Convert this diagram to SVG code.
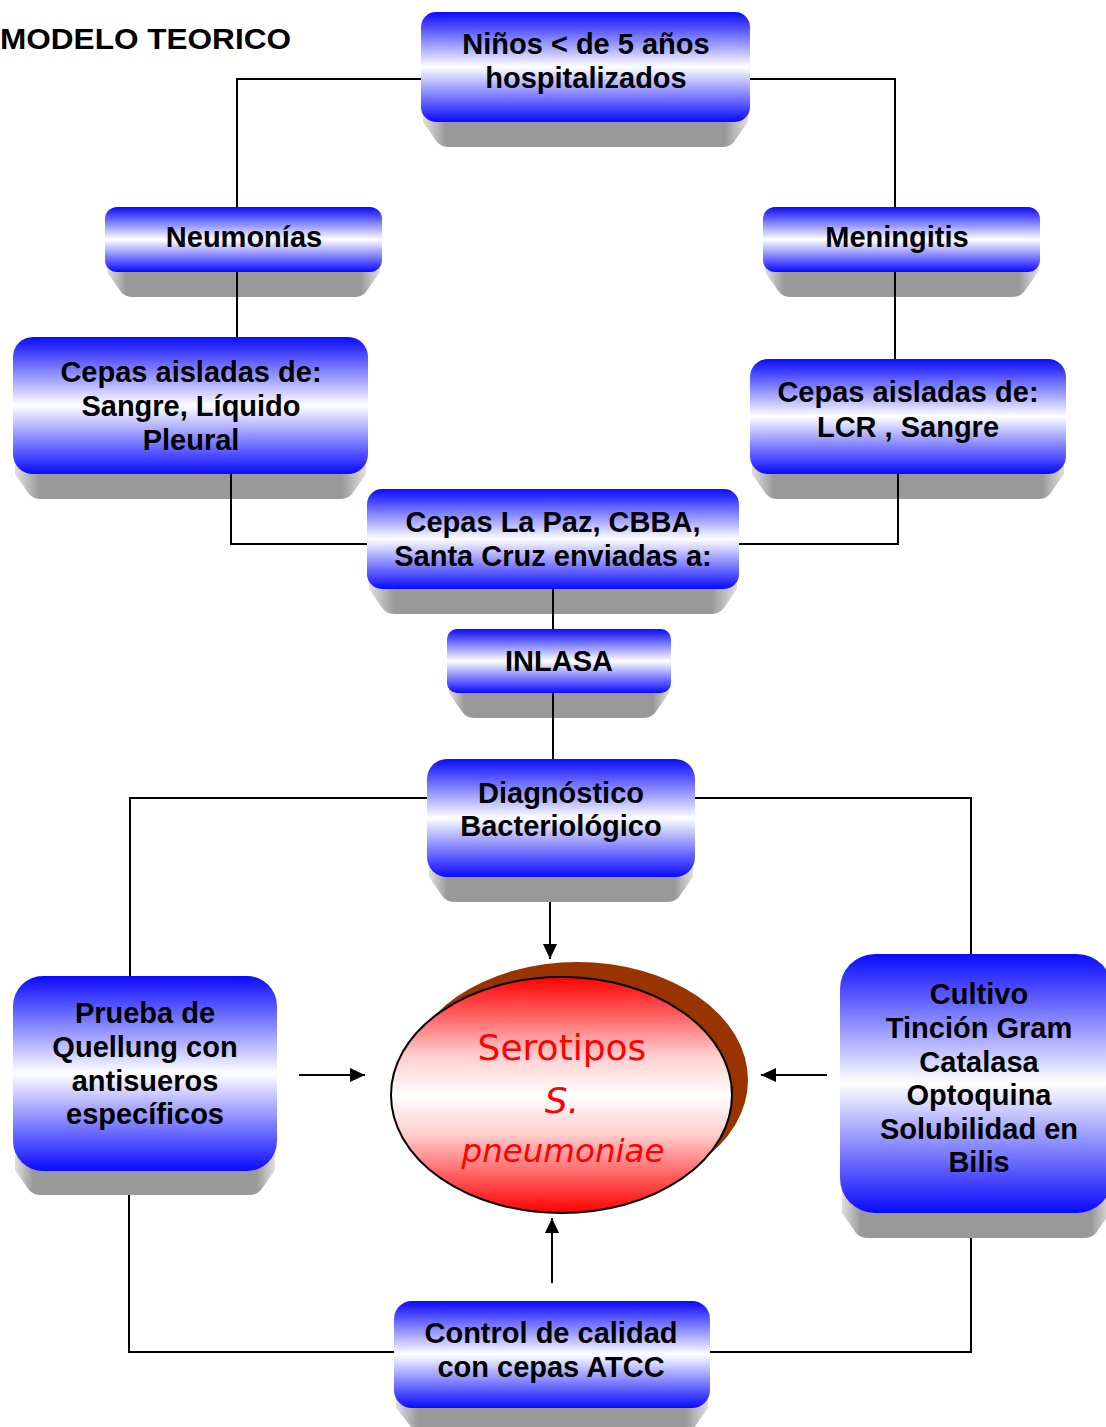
<svg xmlns="http://www.w3.org/2000/svg" width="1106" height="1427" viewBox="0 0 1106 1427">
<defs>
<linearGradient id="blueFace" x1="0" y1="0" x2="0" y2="1">
<stop offset="0" stop-color="#0a0aff"/>
<stop offset="0.5" stop-color="#ffffff"/>
<stop offset="1" stop-color="#0a0aff"/>
</linearGradient>
<linearGradient id="shadowGrad" x1="0" y1="0" x2="1" y2="0">
<stop offset="0" stop-color="#e0e0e0"/>
<stop offset="0.07" stop-color="#999999"/>
<stop offset="0.93" stop-color="#999999"/>
<stop offset="1" stop-color="#e0e0e0"/>
</linearGradient>
<linearGradient id="redFace" x1="0" y1="0" x2="0" y2="1">
<stop offset="0" stop-color="#ff0000"/>
<stop offset="0.15" stop-color="#ff5a5a"/>
<stop offset="0.33" stop-color="#ffcccc"/>
<stop offset="0.5" stop-color="#ffffff"/>
<stop offset="0.67" stop-color="#ffcccc"/>
<stop offset="0.85" stop-color="#ff5a5a"/>
<stop offset="1" stop-color="#ff0000"/>
</linearGradient>
<marker id="arrow" markerUnits="userSpaceOnUse" markerWidth="17" markerHeight="16" refX="16" refY="8" orient="auto">
<path d="M1,1 L16,8 L1,15 Z" fill="#000"/>
</marker>
</defs>
<style>
.face{fill:url(#blueFace);}
.shadow{fill:url(#shadowGrad);}
.lbl{font-family:"Liberation Sans",Arial,sans-serif;font-weight:bold;font-size:29px;fill:#000;text-anchor:middle;}
.title{font-family:"Liberation Sans",Arial,sans-serif;font-weight:bold;font-size:29px;fill:#000;}
.conn{fill:none;stroke:#000;stroke-width:2;}
.red{font-family:"DejaVu Sans",Verdana,sans-serif;fill:#ff0000;text-anchor:middle;}
</style>
<rect width="1106" height="1427" fill="#fff"/>
<text class="title" x="0" y="49" textLength="291" lengthAdjust="spacingAndGlyphs">MODELO TEORICO</text>

<g id="node-ninos">
<path class="shadow" d="M423,107 L748,107 L748,122 L734,142 Q730,147 722,147 L449,147 Q441,147 437,142 L423,122 Z"/>
<rect class="face" x="421" y="12" width="329" height="110" rx="15"/>
<text class="lbl" x="586" y="54">Niños &lt; de 5 años</text>
<text class="lbl" x="586" y="88">hospitalizados</text>
</g>

<g id="node-neumonias">
<path class="shadow" d="M107,260 L380,260 L380,272 L366,292 Q362,297 354,297 L133,297 Q125,297 121,292 L107,272 Z"/>
<rect class="face" x="105" y="207" width="277" height="65" rx="12"/>
<text class="lbl" x="244" y="247">Neumonías</text>
</g>

<g id="node-meningitis">
<path class="shadow" d="M765,260 L1038,260 L1038,272 L1024,292 Q1020,297 1012,297 L791,297 Q783,297 779,292 L765,272 Z"/>
<rect class="face" x="763" y="207" width="277" height="65" rx="12"/>
<text class="lbl" x="897" y="247">Meningitis</text>
</g>

<g id="node-cepas-izq">
<path class="shadow" d="M15,454 L366,454 L366,474 L352,494 Q348,499 340,499 L41,499 Q33,499 29,494 L15,474 Z"/>
<rect class="face" x="13" y="337" width="355" height="137" rx="20"/>
<text class="lbl" x="191" y="382">Cepas aisladas de:</text>
<text class="lbl" x="191" y="416">Sangre, Líquido</text>
<text class="lbl" x="191" y="450">Pleural</text>
</g>

<g id="node-cepas-der">
<path class="shadow" d="M752,456 L1064,456 L1064,474 L1050,494 Q1046,499 1038,499 L778,499 Q770,499 766,494 L752,474 Z"/>
<rect class="face" x="750" y="359" width="316" height="115" rx="18"/>
<text class="lbl" x="908" y="402">Cepas aisladas de:</text>
<text class="lbl" x="908" y="437">LCR , Sangre</text>
</g>

<g id="node-cepas-lapaz">
<path class="shadow" d="M369,574 L737,574 L737,589 L723,609 Q719,614 711,614 L395,614 Q387,614 383,609 L369,589 Z"/>
<rect class="face" x="367" y="489" width="372" height="100" rx="15"/>
<text class="lbl" x="553" y="532">Cepas La Paz, CBBA,</text>
<text class="lbl" x="553" y="566">Santa Cruz enviadas a:</text>
</g>

<g id="node-inlasa">
<path class="shadow" d="M449,683 L669,683 L669,693 L655,713 Q651,718 643,718 L475,718 Q467,718 463,713 L449,693 Z"/>
<rect class="face" x="447" y="629" width="224" height="64" rx="10"/>
<text class="lbl" x="559" y="671">INLASA</text>
</g>

<g id="node-diagnostico">
<path class="shadow" d="M429,857 L693,857 L693,877 L679,897 Q675,902 667,902 L455,902 Q447,902 443,897 L429,877 Z"/>
<rect class="face" x="427" y="759" width="268" height="118" rx="20"/>
<text class="lbl" x="561" y="803">Diagnóstico</text>
<text class="lbl" x="561" y="836">Bacteriológico</text>
</g>

<g id="node-quellung">
<path class="shadow" d="M15,1140 L275,1140 L275,1170 L261,1190 Q257,1195 249,1195 L41,1195 Q33,1195 29,1190 L15,1170 Z"/>
<rect class="face" x="13" y="976" width="264" height="195" rx="30"/>
<text class="lbl" x="145" y="1023">Prueba de</text>
<text class="lbl" x="145" y="1057">Quellung con</text>
<text class="lbl" x="145" y="1091">antisueros</text>
<text class="lbl" x="145" y="1124">específicos</text>
</g>

<g id="node-cultivo">
<path class="shadow" d="M842,1178 L1110,1178 L1110,1213 L1096,1233 Q1092,1238 1084,1238 L868,1238 Q860,1238 856,1233 L842,1213 Z"/>
<rect class="face" x="840" y="954" width="272" height="259" rx="35"/>
<text class="lbl" x="979" y="1004">Cultivo</text>
<text class="lbl" x="979" y="1038">Tinción Gram</text>
<text class="lbl" x="979" y="1072">Catalasa</text>
<text class="lbl" x="979" y="1105">Optoquina</text>
<text class="lbl" x="979" y="1139">Solubilidad en</text>
<text class="lbl" x="979" y="1172">Bilis</text>
</g>

<g id="node-control">
<path class="shadow" d="M396,1390 L708,1390 L708,1408 L694,1428 Q690,1433 682,1433 L424,1433 Q416,1433 412,1428 L396,1408 Z"/>
<rect class="face" x="394" y="1301" width="316" height="107" rx="18"/>
<text class="lbl" x="551" y="1343">Control de calidad</text>
<text class="lbl" x="551" y="1377">con cepas ATCC</text>
</g>

<g id="node-serotipos">
<ellipse cx="577.5" cy="1080" rx="170.5" ry="118" fill="#993300"/>
<ellipse cx="561.5" cy="1095" rx="170.5" ry="118" fill="url(#redFace)" stroke="#000" stroke-width="2"/>
<text class="red" x="562" y="1060" font-size="36">Serotipos</text>
<text class="red" x="562" y="1113" font-size="36" font-style="italic">S.</text>
<text class="red" x="563" y="1162" font-size="32.5" font-style="italic">pneumoniae</text>
</g>

<g id="connectors">
<path class="conn" d="M421,79 H237 V207"/>
<path class="conn" d="M750,79 H895 V207"/>
<path class="conn" d="M237,272 V337"/>
<path class="conn" d="M895,272 V359"/>
<path class="conn" d="M231,474 V544 H367"/>
<path class="conn" d="M898,474 V544 H739"/>
<path class="conn" d="M553,589 V629"/>
<path class="conn" d="M553,693 V759"/>
<path class="conn" d="M427,798 H130 V976"/>
<path class="conn" d="M695,798 H971 V954"/>
<path class="conn" d="M550,902 V959" marker-end="url(#arrow)"/>
<path class="conn" d="M299,1075 H365" marker-end="url(#arrow)"/>
<path class="conn" d="M827,1075 H761" marker-end="url(#arrow)"/>
<path class="conn" d="M552,1283 V1218" marker-end="url(#arrow)"/>
<path class="conn" d="M129,1195 V1352 H394"/>
<path class="conn" d="M971,1238 V1352 H710"/>
</g>
</svg>
